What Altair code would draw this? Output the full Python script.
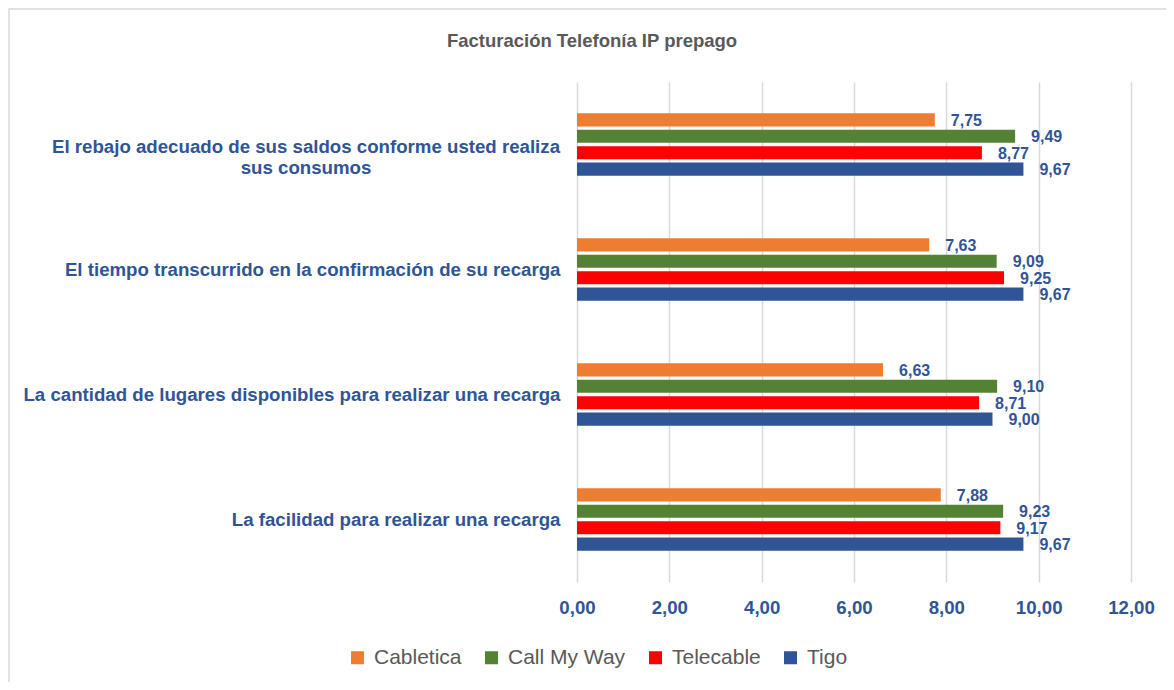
import altair as alt
import pandas as pd

categories = [
    "El rebajo adecuado de sus saldos conforme usted realiza sus consumos",
    "El tiempo transcurrido en la confirmación de su recarga",
    "La cantidad de lugares disponibles para realizar una recarga",
    "La facilidad para realizar una recarga",
]
first_label_text = "El rebajo adecuado de sus saldos conforme usted realiza|sus consumos"
companies = ["Cabletica", "Call My Way", "Telecable", "Tigo"]
cabletica = [7.75, 7.63, 6.63, 7.88]
call_my_way = [9.49, 9.09, 9.10, 9.23]
telecable = [8.77, 9.25, 8.71, 9.17]
tigo = [9.67, 9.67, 9.00, 9.67]
colors = ["#ED7D31", "#548235", "#FF0000", "#2F5597"]
x_ticks = [0, 2, 4, 6, 8, 10, 12]
title_text = "Facturación Telefonía IP prepago"

series = {"Cabletica": cabletica, "Call My Way": call_my_way, "Telecable": telecable, "Tigo": tigo}
rows = []
for comp in companies:
    for cat, v in zip(categories, series[comp]):
        rows.append({"Pregunta": cat, "Empresa": comp, "Valor": v})
df = pd.DataFrame(rows)

W, H = 554, 500
BLUE = "#2F5597"
FONT = "Liberation Sans"
LBL = 18.67

label_expr = "datum.value == '" + categories[0] + "' ? '' : datum.value"

y_enc = alt.Y(
    "Pregunta:N",
    sort=categories,
    scale=alt.Scale(paddingInner=0.5, paddingOuter=0.25),
    axis=alt.Axis(
        title=None, domain=False, ticks=False, labelFont=FONT, labelFontWeight="bold",
        labelFontSize=LBL, labelColor=BLUE, labelPadding=17, labelLimit=600,
        labelExpr=label_expr,
    ),
)
yoff_enc = alt.YOffset("Empresa:N", sort=companies, scale=alt.Scale(paddingInner=0.2, paddingOuter=0))
x_enc = alt.X(
    "Valor:Q",
    scale=alt.Scale(domain=[0, 12], nice=False),
    axis=alt.Axis(
        values=x_ticks, title=None, domain=False, ticks=False, grid=True,
        gridColor="#d9d9d9", gridWidth=1.5, labelFlush=False,
        labelExpr="replace(format(datum.value, '.2f'), '.', ',')",
        labelFont=FONT, labelFontSize=LBL, labelFontWeight="bold", labelColor=BLUE,
        labelPadding=16,
    ),
)

border = alt.Chart(alt.Data(values=[{}])).mark_rect(
    fillOpacity=0, stroke="#d9d9d9", strokeWidth=1.5
).encode(
    x=alt.value(-568), x2=alt.value(W + 100), y=alt.value(-73), y2=alt.value(H + 150)
)

bars = alt.Chart(df).mark_bar().encode(
    x=x_enc,
    y=y_enc,
    yOffset=yoff_enc,
    color=alt.Color(
        "Empresa:N",
        sort=companies,
        scale=alt.Scale(domain=companies, range=colors),
        legend=alt.Legend(
            title=None, orient="none", direction="horizontal", legendX=-230, legendY=565,
            symbolType="square", symbolSize=169, symbolStrokeWidth=0, symbolOpacity=1,
            labelFont=FONT, labelFontSize=21, labelColor="#595959", labelOffset=6,
            columnPadding=19, padding=0,
        ),
    ),
)

labels = alt.Chart(df).transform_calculate(
    Etiqueta="replace(format(datum.Valor, '.2f'), '.', ',')"
).mark_text(
    align="left", baseline="middle", dx=16, dy=1, font=FONT, fontWeight="bold",
    fontSize=16, color=BLUE,
).encode(
    x=alt.X("Valor:Q"),
    y=alt.Y("Pregunta:N", sort=categories),
    yOffset=alt.YOffset("Empresa:N", sort=companies),
    text="Etiqueta:N",
)

wrapped_label = alt.Chart(
    pd.DataFrame({"Pregunta": [categories[0]], "Linea": [first_label_text]})
).mark_text(
    align="center", baseline="middle", dy=2, lineBreak="|", lineHeight=21,
    font=FONT, fontWeight="bold", fontSize=LBL, color=BLUE,
).encode(
    y=alt.Y("Pregunta:N", sort=categories),
    x=alt.value(-271),
    text="Linea:N",
)

chart = alt.layer(border, bars, labels, wrapped_label).properties(
    width=W,
    height=H,
    title=alt.TitleParams(
        title_text, font=FONT, fontSize=18.5, fontWeight="bold", color="#595959",
        anchor="middle", frame="group", dx=-262, offset=-61, baseline="bottom",
    ),
    autosize=alt.AutoSizeParams(type="none"),
    padding={"left": 569, "top": 74, "right": 35, "bottom": 100},
    background="white",
).configure_view(strokeWidth=0)

chart.save("out.html", embed_options={"renderer": "svg", "actions": False})
